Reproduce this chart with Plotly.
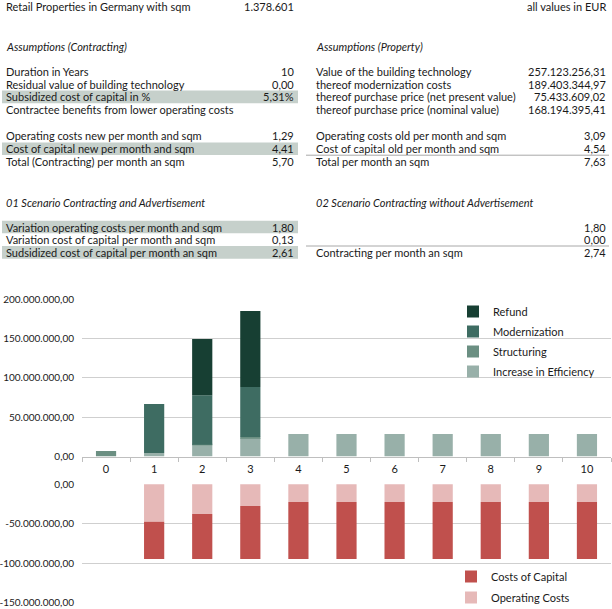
import plotly.graph_objects as go

W, H = 612, 609
FONT = "Lato"
TXT = "#1a1a1a"

# ---------------- data ----------------
years = [str(i) for i in range(11)]
efficiency = [0, 4.5e6, 13.8e6, 23.5e6, 28.6e6, 28.6e6, 28.6e6, 28.6e6, 28.6e6, 28.6e6, 28.6e6]
structuring = [7.0e6, 0, 1.3e6, 1.3e6, 0, 0, 0, 0, 0, 0, 0]
modernization = [0, 62.3e6, 63.0e6, 63.6e6, 0, 0, 0, 0, 0, 0, 0]
refund = [0, 0, 71.5e6, 96.8e6, 0, 0, 0, 0, 0, 0, 0]
operating_costs = [0, -47.3e6, -37.6e6, -27.5e6, -22.4e6, -22.4e6, -22.4e6, -22.4e6, -22.4e6, -22.4e6, -22.4e6]
capital_costs = [0, -47.2e6, -56.9e6, -67.0e6, -72.1e6, -72.1e6, -72.1e6, -72.1e6, -72.1e6, -72.1e6, -72.1e6]

top_tickvals = [0, 50e6, 100e6, 150e6, 200e6]
top_ticktext = ["0,00", "50.000.000,00", "100.000.000,00", "150.000.000,00", "200.000.000,00"]
bot_tickvals = [0, -50e6, -100e6, -150e6]
bot_ticktext = ["0,00", "-50.000.000,00", "-100.000.000,00", "-150.000.000,00"]

header_left = ("Retail Properties in Germany with sqm", "1.378.601")
header_right = "all values in EUR"

assump_contract_title = "Assumptions (Contracting)"
assump_contract_rows = [
    ("Duration in Years", "10", False),
    ("Residual value of building technology", "0,00", False),
    ("Subsidized cost of capital in %", "5,31%", True),
    ("Contractee benefits from lower operating costs", "", False),
]
contract_cost_rows = [
    ("Operating costs new per month and sqm", "1,29", False),
    ("Cost of capital new per month and sqm", "4,41", True),
    ("Total (Contracting) per month an sqm", "5,70", False),
]
assump_property_title = "Assumptions (Property)"
assump_property_rows = [
    ("Value of the building technology", "257.123.256,31"),
    ("thereof modernization costs", "189.403.344,97"),
    ("thereof purchase price (net present value)", "75.433.609,02"),
    ("thereof purchase price (nominal value)", "168.194.395,41"),
]
property_cost_rows = [
    ("Operating costs old per month and sqm", "3,09"),
    ("Cost of capital old per month and sqm", "4,54"),
    ("Total per month an sqm", "7,63"),
]
scenario1_title = "01 Scenario Contracting and Advertisement"
scenario1_rows = [
    ("Variation operating costs per month and sqm", "1,80", True),
    ("Variation cost of capital per month and sqm", "0,13", False),
    ("Sudsidized cost of capital per month an sqm", "2,61", True),
]
scenario2_title = "02 Scenario Contracting without Advertisement"
scenario2_rows = [
    ("", "1,80"),
    ("", "0,00"),
    ("Contracting per month an sqm", "2,74"),
]

C_REFUND = "#173f33"
C_MODERN = "#3e6c62"
C_STRUCT = "#6b8f82"
C_EFFIC = "#98b0a9"
C_CAPITAL = "#c0504d"
C_OPER = "#e6b9b8"
SHADE = "#c6d0cb"
GRID = "#cfcfcf"


def X(px):
    return px / W


def Y(py):
    return 1 - py / H


fig = go.Figure()

# top chart traces (stacked bottom-up), legend shows Refund first
top_series = [
    ("Increase in Efficiency", efficiency, C_EFFIC, 4),
    ("Structuring", structuring, C_STRUCT, 3),
    ("Modernization", modernization, C_MODERN, 2),
    ("Refund", refund, C_REFUND, 1),
]
for name, vals, col, rank in top_series:
    fig.add_trace(go.Bar(x=years, y=vals, name=name, marker=dict(color=col, line=dict(width=0)),
                         xaxis="x", yaxis="y", legend="legend", legendgroup=name, legendrank=rank))

bot_series = [
    ("Operating Costs", operating_costs, C_OPER, 2),
    ("Costs of Capital", capital_costs, C_CAPITAL, 1),
]
for name, vals, col, rank in bot_series:
    fig.add_trace(go.Bar(x=years, y=vals, name=name, marker=dict(color=col, line=dict(width=0)),
                         xaxis="x2", yaxis="y2", legend="legend2", legendgroup=name, legendrank=rank))

# axis geometry from pixel positions
top_zero_px, top_200_px = 456.5, 299.5
top_range = [0, 201e6]
top_top_px = top_zero_px - (top_range[1] / 200e6) * (top_zero_px - top_200_px)
bot_zero_px, bot_m150_px = 484.3, 602.7
bot_range = [-151e6, 0.5e6]
ppu = (bot_m150_px - bot_zero_px) / 150e6
bot_top_px = bot_zero_px - bot_range[1] * ppu
bot_bot_px = bot_zero_px - bot_range[0] * ppu

x_domain = [X(82), X(611)]

fig.update_layout(
    width=W, height=H,
    margin=dict(l=0, r=0, t=0, b=0, autoexpand=False),
    paper_bgcolor="white", plot_bgcolor="white",
    barmode="relative", bargap=0.58,
    font=dict(family=FONT, size=11, color=TXT),
    xaxis=dict(domain=x_domain, anchor="y", type="category", showgrid=False,
               showline=True, linecolor="#bfbfbf", linewidth=1,
               ticks="outside", tickson="boundaries", ticklen=4, tickcolor="#bfbfbf",
               tickfont=dict(size=11, color=TXT), ticklabelstandoff=2, automargin=False),
    yaxis=dict(domain=[Y(top_zero_px), Y(top_top_px)], anchor="x", range=top_range,
               tickvals=top_tickvals, ticktext=top_ticktext, showgrid=True, gridcolor=GRID,
               zeroline=False, showline=False, ticks="", ticklabelstandoff=7,
               tickfont=dict(size=10, color=TXT), automargin=False),
    xaxis2=dict(domain=x_domain, anchor="y2", type="category", visible=False, showgrid=False),
    yaxis2=dict(domain=[Y(bot_bot_px), Y(bot_top_px)], anchor="x2", range=bot_range,
                tickvals=bot_tickvals, ticktext=bot_ticktext, showgrid=True, gridcolor=GRID,
                zeroline=False, showline=False, ticks="", ticklabelstandoff=7,
                tickfont=dict(size=10, color=TXT), automargin=False),
    legend=dict(x=X(453), y=Y(297), xanchor="left", yanchor="top", traceorder="grouped",
                bgcolor="rgba(0,0,0,0)", font=dict(size=11, color=TXT), tracegroupgap=1,
                itemwidth=30),
    legend2=dict(x=X(451), y=Y(562), xanchor="left", yanchor="top", traceorder="grouped",
                 bgcolor="rgba(0,0,0,0)", font=dict(size=11, color=TXT), tracegroupgap=2,
                 itemwidth=30),
    showlegend=True,
)

ann = []
shapes = []


def text(px, py, s, anchor="left", italic=False, size=11):
    if italic:
        s = "<i>" + s + "</i>"
    ann.append(dict(x=X(px), y=Y(py), xref="paper", yref="paper", text=s, showarrow=False,
                    xanchor=anchor, yanchor="middle", font=dict(family=FONT, size=size, color=TXT)))


def shade(x0, x1, yc):
    shapes.append(dict(type="rect", xref="paper", yref="paper", x0=X(x0), x1=X(x1),
                       y0=Y(yc + 6.3), y1=Y(yc - 6.3), fillcolor=SHADE, line_width=0, layer="below"))


def hline(x0, x1, py):
    shapes.append(dict(type="line", xref="paper", yref="paper", x0=X(x0), x1=X(x1),
                       y0=Y(py), y1=Y(py), line=dict(color="#a8a8a8", width=1)))


LX, LV = 4, 296
RX, RV = 314, 608

text(LX, 7, header_left[0])
text(LV, 7, header_left[1], "right")
text(RV, 7, header_right, "right")

text(LX, 46, assump_contract_title, italic=True)
text(RX, 46, assump_property_title, italic=True)

rowsA = [71.5, 84.2, 96.9, 109.6]
for (lab, val, sh), yc in zip(assump_contract_rows, rowsA):
    if sh:
        shade(2, 298, yc)
    text(LX, yc, lab)
    if val:
        text(LV, yc, val, "right")
for (lab, val), yc in zip(assump_property_rows, rowsA):
    text(RX, yc, lab)
    text(RV, yc, val, "right")

rowsB = [136.0, 148.7, 161.4]
for (lab, val, sh), yc in zip(contract_cost_rows, rowsB):
    if sh:
        shade(2, 298, yc)
    text(LX, yc, lab)
    text(LV, yc, val, "right")
for (lab, val), yc in zip(property_cost_rows, rowsB):
    text(RX, yc, lab)
    text(RV, yc, val, "right")
hline(306, 609, 155.2)

text(LX, 202.5, scenario1_title, italic=True)
text(RX, 202.5, scenario2_title, italic=True)
rowsC = [227.0, 239.7, 252.4]
for (lab, val, sh), yc in zip(scenario1_rows, rowsC):
    if sh:
        shade(2, 298, yc)
    text(LX, yc, lab)
    text(LV, yc, val, "right")
for (lab, val), yc in zip(scenario2_rows, rowsC):
    if lab:
        text(RX, yc, lab)
    text(RV, yc, val, "right")
hline(306, 609, 246.0)

fig.update_layout(annotations=ann, shapes=shapes)
fig.write_html(
    "out.html",
    config={"displayModeBar": False},
    post_script="document.body.style.margin='0';document.body.style.padding='0';"
                "document.documentElement.style.overflow='hidden';",
)
